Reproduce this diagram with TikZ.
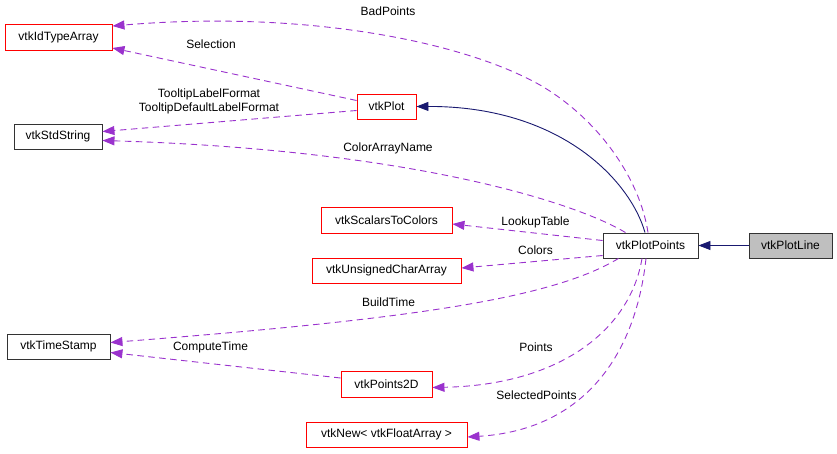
\documentclass[tikz,border=0pt]{standalone}
\usepackage{fontspec}
\setmainfont{Liberation Sans}
\usetikzlibrary{arrows.meta,calc}
\definecolor{depcol}{HTML}{9A32CD}
\definecolor{inhcol}{HTML}{191970}
\definecolor{boxred}{HTML}{FF0000}
\definecolor{boxgray}{HTML}{BFBFBF}
\tikzset{
  cls/.style={draw=#1, line width=0.9pt, fill=white, inner sep=0pt, minimum height=25pt, font=\fontsize{12}{14}\selectfont, anchor=center},
  redcls/.style={cls=boxred},
  blkcls/.style={cls=black!80},
  dep/.style={draw=depcol, line width=0.9pt, dash pattern=on 6.5pt off 4.5pt, -{Triangle[length=12pt,width=9pt,fill=depcol]}},
  inh/.style={draw=inhcol, line width=0.9pt, -{Triangle[length=12pt,width=9pt,fill=inhcol]}},
  lbl/.style={font=\fontsize{12}{14}\selectfont, inner sep=0pt, align=center}
}
\begin{document}
\begin{tikzpicture}[x=1pt,y=-1pt]
\useasboundingbox (0,0) rectangle (837,453);
% nodes
\node[redcls, minimum width=107pt, minimum height=26pt] (idt) at (58.5,37) {vtkIdTypeArray};
\node[blkcls, minimum width=88pt] (std) at (58,136.5) {vtkStdString};
\node[blkcls, minimum width=103pt] (ts) at (58.5,346.5) {vtkTimeStamp};
\node[redcls, minimum width=59pt] (plot) at (386.5,106.5) {vtkPlot};
\node[redcls, minimum width=131pt, minimum height=26pt] (s2c) at (386.5,220) {vtkScalarsToColors};
\node[redcls, minimum width=149pt] (uca) at (386.5,270.5) {vtkUnsignedCharArray};
\node[redcls, minimum width=91pt, minimum height=26pt] (p2d) at (386.5,384) {vtkPoints2D};
\node[redcls, minimum width=161pt] (new) at (386.5,434.5) {vtkNew< vtkFloatArray >};
\node[blkcls, minimum width=95pt] (pp) at (650.5,245.5) {vtkPlotPoints};
\node[blkcls, fill=boxgray, minimum width=83pt] (pl) at (790.5,245.5) {vtkPlotLine};
% inheritance
\draw[inh] (pl.west) -- (pp.east);
\draw[inh] ($(pp.north)+(-5.5,0)$) .. controls (630,180) and (560,106) .. (plot.east);
% dependencies
\draw[dep] ($(pp.north)+(-2.5,0)$) .. controls (640,180) and (600,120) .. (540,85)
  .. controls (460,40) and (300,10) .. ($(idt.east)+(0,-11)$);
\draw[dep] ($(plot.west)+(0,-6)$) -- ($(idt.east)+(0,11)$);
\draw[dep] ($(plot.west)+(0,4)$) -- ($(std.east)+(0,-5)$);
\draw[dep] ($(pp.north)+(-25,0)$) .. controls (580,205) and (420,150) .. ($(std.east)+(0,4)$);
\draw[dep] ($(pp.west)+(0,-5)$) -- ($(s2c.east)+(0,4)$);
\draw[dep] ($(pp.west)+(0,10)$) -- ($(uca.east)+(0,-2.5)$);
\draw[dep] ($(pp.south)+(-32,0)$) .. controls (550,300) and (400,320) .. ($(ts.east)+(0,-4)$);
\draw[dep] ($(p2d.west)+(0,-6)$) -- ($(ts.east)+(0,6)$);
\draw[dep] ($(pp.south)+(-8.5,0)$) .. controls (630,330) and (560,385) .. ($(p2d.east)+(0,3.5)$);
\draw[dep] ($(pp.south)+(-4.5,0)$) .. controls (635,360) and (580,430) .. ($(new.east)+(0,2.5)$);
% labels
\node[lbl] (lbad) at (388,11) {BadPoints};
\node[lbl] (lsel) at (211,44) {Selection};
\node[lbl] (ltip) at (209,101) {TooltipLabelFormat\\TooltipDefaultLabelFormat};
\node[lbl] (lcan) at (388,148) {ColorArrayName};
\node[lbl] (llut) at (535.5,222) {LookupTable};
\node[lbl] (lcol) at (535.5,250) {Colors};
\node[lbl] (lbt) at (388.5,302) {BuildTime};
\node[lbl] (lct) at (210.5,347) {ComputeTime};
\node[lbl] (lpts) at (536,347) {Points};
\node[lbl] (lsp) at (536.5,395) {SelectedPoints};
\end{tikzpicture}
\end{document}
